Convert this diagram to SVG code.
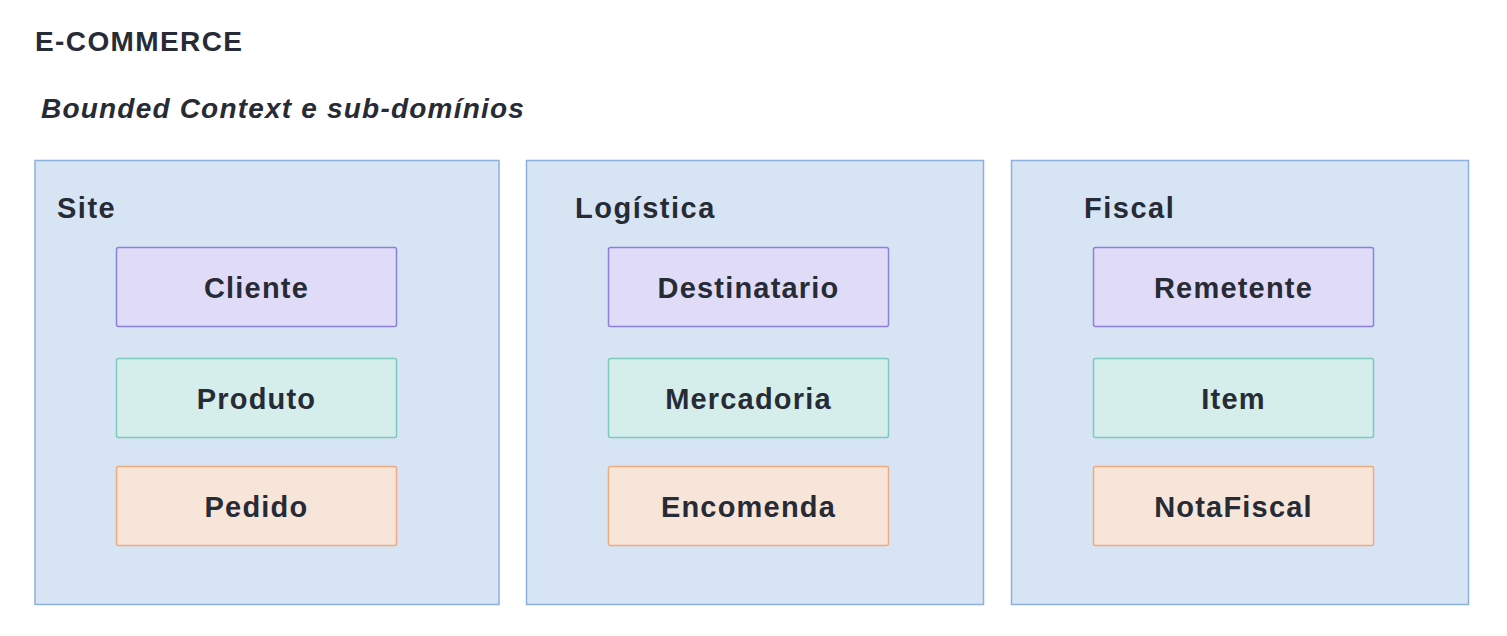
<svg xmlns="http://www.w3.org/2000/svg" width="1507" height="636" viewBox="0 0 1507 636">
<style>
.bg{fill:#ffffff}
.ctx{fill:#d6e4f4;stroke:#8db0dd;stroke-width:1.5}
.p{fill:#e0dcf8;stroke:#8a80df;stroke-width:1.5}
.g{fill:#d5eeeb;stroke:#7ccabd;stroke-width:1.5}
.o{fill:#f8e5da;stroke:#eeab80;stroke-width:1.5}
text{font-family:"Liberation Sans",Arial,sans-serif;font-weight:bold;fill:#262b36}
.title{font-size:28px;letter-spacing:1.4px}
.sub{font-size:28px;font-style:italic;letter-spacing:1.2px}
.ctxl{font-size:29px;letter-spacing:1.5px}
.nl{font-size:29px;letter-spacing:1.2px;text-anchor:middle}
</style>
<rect class="bg" x="0" y="0" width="1507" height="636"/>
<text class="title" x="35" y="51">E-COMMERCE</text>
<text class="sub" x="41" y="118">Bounded Context e sub-domínios</text>

<g id="ctx-site">
<rect class="ctx" x="35" y="160.5" width="464" height="444"/>
<text class="ctxl" x="57" y="218">Site</text>
</g>
<g id="ctx-logistica">
<rect class="ctx" x="526.5" y="160.5" width="457" height="444"/>
<text class="ctxl" x="575" y="218">Logística</text>
</g>
<g id="ctx-fiscal">
<rect class="ctx" x="1011.5" y="160.5" width="457" height="444"/>
<text class="ctxl" x="1084" y="218">Fiscal</text>
</g>

<g id="cliente"><rect class="p" x="116.5" y="247.5" width="280" height="79" rx="2"/><text class="nl" x="256.5" y="298">Cliente</text></g>
<g id="produto"><rect class="g" x="116.5" y="358.5" width="280" height="79" rx="2"/><text class="nl" x="256.5" y="409">Produto</text></g>
<g id="pedido"><rect class="o" x="116.5" y="466.5" width="280" height="79" rx="2"/><text class="nl" x="256.5" y="517">Pedido</text></g>

<g id="destinatario"><rect class="p" x="608.5" y="247.5" width="280" height="79" rx="2"/><text class="nl" x="748.5" y="298">Destinatario</text></g>
<g id="mercadoria"><rect class="g" x="608.5" y="358.5" width="280" height="79" rx="2"/><text class="nl" x="748.5" y="409">Mercadoria</text></g>
<g id="encomenda"><rect class="o" x="608.5" y="466.5" width="280" height="79" rx="2"/><text class="nl" x="748.5" y="517">Encomenda</text></g>

<g id="remetente"><rect class="p" x="1093.5" y="247.5" width="280" height="79" rx="2"/><text class="nl" x="1233.5" y="298">Remetente</text></g>
<g id="item"><rect class="g" x="1093.5" y="358.5" width="280" height="79" rx="2"/><text class="nl" x="1233.5" y="409">Item</text></g>
<g id="notafiscal"><rect class="o" x="1093.5" y="466.5" width="280" height="79" rx="2"/><text class="nl" x="1233.5" y="517">NotaFiscal</text></g>

<g id="connectors"></g>
</svg>
